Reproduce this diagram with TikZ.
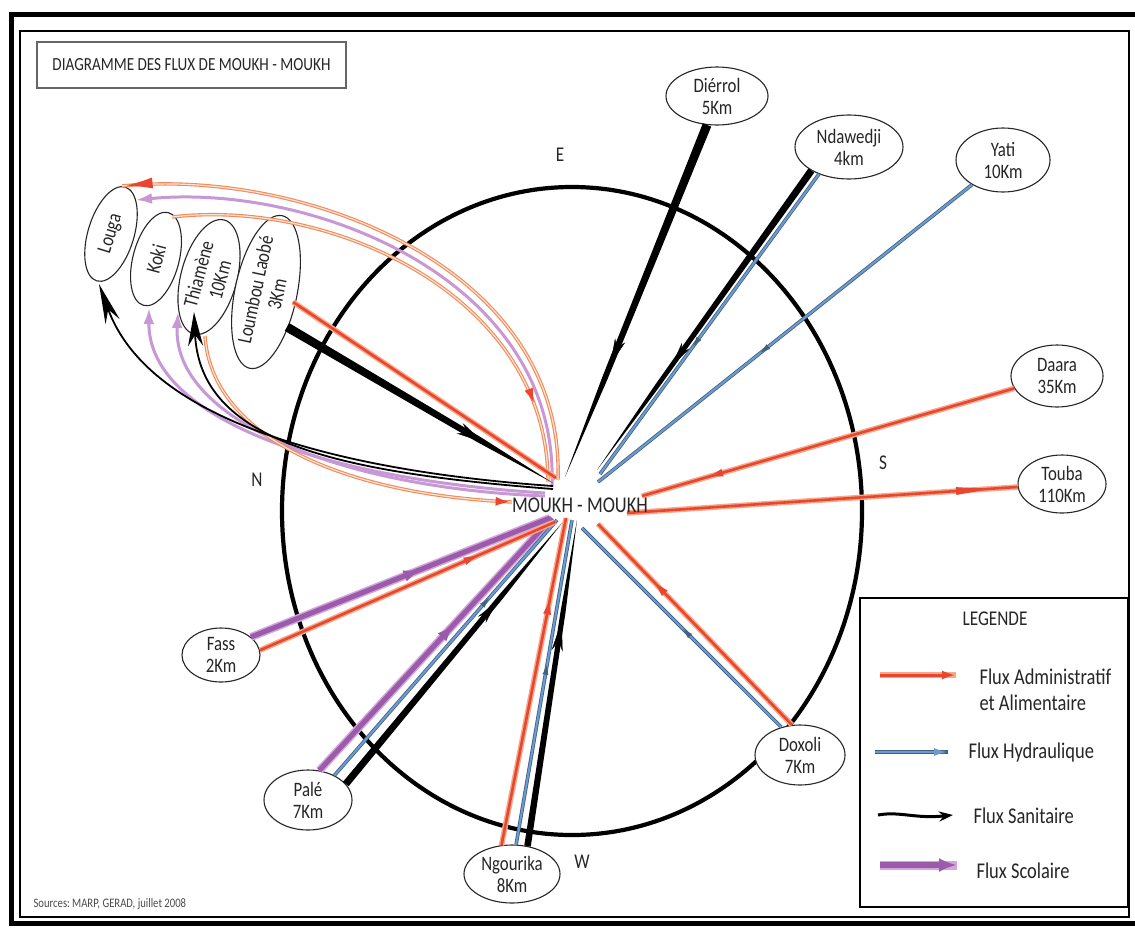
\documentclass[tikz,border=0pt]{standalone}
\usepackage{fontspec}
\setmainfont{Carlito}[FakeStretch=0.82]
\usetikzlibrary{shapes.geometric,arrows.meta,decorations.markings,calc}
\definecolor{fred}{HTML}{E8462E}
\definecolor{fglow}{HTML}{F7A98A}
\definecolor{fblue}{HTML}{6C9BD2}
\definecolor{fbluedk}{HTML}{41617F}
\definecolor{fpurple}{HTML}{9C5AAA}
\definecolor{fpurplelt}{HTML}{D2A6DC}
\definecolor{forange}{HTML}{F2895A}
\definecolor{fcurvein}{HTML}{FDE3D2}
\definecolor{fpcurve}{HTML}{C898D6}
\newcommand{\blacktaper}[4]{%
  \coordinate (tpM) at ($(#1)!0.72!(#2)$);
  \fill[black] ($(#1)!#3!90:(#2)$) -- ($(tpM)!#4!90:(#2)$) -- (#2) -- ($(tpM)!#4!-90:(#2)$) -- ($(#1)!#3!-90:(#2)$) -- cycle;}
\tikzset{
  place/.style={ellipse, draw=black!85, line width=1.1pt, fill=white, inner sep=0pt, align=center, text=black!85, font=\fontsize{20.5}{22}\selectfont},
  redline/.style={draw=fred, line width=2.6pt, preaction={draw=fglow, line width=5.5pt}},
  blueline/.style={draw=fblue, line width=2pt, preaction={draw=fbluedk, line width=3.6pt}},
  purpleline/.style={draw=fpurple, line width=5pt, preaction={draw=fpurplelt, line width=8pt}},
  ocurve/.style={draw=forange, line width=3.4pt, postaction={draw=fcurvein, line width=1.2pt}},
  pcurve/.style={draw=fpcurve, line width=3pt},
  kcurve/.style={draw=black, line width=1.8pt},
  markfw/.style 2 args={postaction={decorate,decoration={markings,mark=at position #1 with {\arrow{#2}}}}},
  markbw/.style 2 args={postaction={decorate,decoration={markings,mark=at position #1 with {\arrowreversed{#2}}}}},
  compass/.style={text=black!85, font=\fontsize{21}{23}\selectfont},
  legtext/.style={anchor=base west, text=black!85, font=\fontsize{22.5}{25}\selectfont},
}
\begin{document}
\begin{tikzpicture}[x=1pt,y=-1pt]
\useasboundingbox (0,0) rectangle (1135,927);
\clip (0,0) rectangle (1135,927);
\fill[white] (0,0) rectangle (1135,927);
% frame
\draw[line width=5.5pt] (11.5,14.5) rectangle (1145,923.5);
\draw[line width=2pt] (19.5,31) rectangle (1129,917);
% title
\node[draw=black!60, line width=1.5pt, minimum width=309pt, minimum height=46pt, inner sep=0pt, text=black!85, font=\fontsize{18.5}{21}\selectfont] (title) at (191.5,65) {DIAGRAMME DES FLUX DE MOUKH - MOUKH};
% ring
\node[ellipse, draw, line width=4.2pt, minimum width=580pt, minimum height=648pt, inner sep=0pt] (ring) at (572,511) {};
% compass
\node[compass] (lblE) at (560,155) {E};
\node[compass] (lblN) at (257,480) {N};
\node[compass] (lblS) at (883,463) {S};
\node[compass] (lblW) at (582,862) {W};
% places
\node[place, minimum width=102pt, minimum height=58pt] (Dierrol) at (717,96) {Diérrol\\5Km};
\node[place, minimum width=108pt, minimum height=64pt] (Ndawedji) at (849,147) {Ndawedji\\4km};
\node[place, minimum width=94pt, minimum height=64pt] (Yati) at (1003,160) {Yati\\10Km};
\node[place, minimum width=92pt, minimum height=62pt] (Daara) at (1057,376) {Daara\\35Km};
\node[place, minimum width=88pt, minimum height=58pt] (Touba) at (1062,484) {Touba\\110Km};
\node[place, minimum width=90pt, minimum height=60pt] (Doxoli) at (800,755) {Doxoli\\7Km};
\node[place, minimum width=96pt, minimum height=58pt] (Ngourika) at (512,874) {Ngourika\\8Km};
\node[place, minimum width=88pt, minimum height=60pt] (Pale) at (308,800) {Palé\\7Km};
\node[place, minimum width=78pt, minimum height=54pt] (Fass) at (221,655) {Fass\\2Km};
\node[place, rotate=73, minimum width=98pt, minimum height=46pt] (Louga) at (111,234) {Louga};
\node[place, rotate=75, minimum width=96pt, minimum height=46pt] (Koki) at (156,259) {Koki};
\node[place, rotate=75, minimum width=118pt, minimum height=56pt] (Thiamene) at (209,277) {Thiamène\\10Km};
\node[place, rotate=78, minimum width=156pt, minimum height=62pt] (Loumbou) at (266,292) {Loumbou Laobé\\3Km};
% hub-side ends
\coordinate (cDi) at (565,477);
\coordinate (cNdk) at (597,470);
\coordinate (cNdb) at (600,474);
\coordinate (cYa) at (598,482);
\coordinate (cDa) at (642,496);
\coordinate (cTo) at (627,513);
\coordinate (cDxr) at (598,524);
\coordinate (cDxb) at (582,528);
\coordinate (cNgr) at (566,518);
\coordinate (cNgb) at (572,520);
\coordinate (cNgk) at (577,520);
\coordinate (cPap) at (552,518);
\coordinate (cPab) at (557,520);
\coordinate (cPak) at (562,523);
\coordinate (cFap) at (550,518);
\coordinate (cFar) at (555,522);
\coordinate (cLbk) at (553,483);
\coordinate (cLbr) at (556,478);
\coordinate (cT1) at (558,480);
\coordinate (cT2) at (552,487);
\coordinate (cT3) at (548,482);
\coordinate (cB1) at (553,486);
\coordinate (cB2) at (553,489);
\coordinate (cB3) at (545,493);
\coordinate (cB4) at (545,496);
\coordinate (cB5) at (512,502);
% place-side ends
\coordinate (dA) at (Dierrol.251);
\coordinate (ndk) at (Ndawedji.212);
\coordinate (ngk) at (Ngourika.61);
\coordinate (pak) at (Pale.23);
\coordinate (lbk) at (287,327);
\coordinate (lbr) at (293,302);
\coordinate (lgT) at (122,186);
\coordinate (lgP) at (136,200);
\coordinate (kT) at (172,217);
\coordinate (lgB) at (99,284);
\coordinate (tB) at (194,312);
\coordinate (kB) at (149,308);
\coordinate (tP) at (178,312);
\coordinate (tO) at (205,336);
% curves to Louga / Koki / Thiamene
\draw[ocurve, markfw={0.999}{Latex[length=30pt,width=11pt,color=fred]}] (cT1) .. controls (565,265) and (300,168) .. (lgT);
\draw[pcurve, -{Latex[length=16pt,width=11pt]}] (cT2) .. controls (560,278) and (310,183) .. (lgP);
\draw[ocurve, markfw={0.85}{Latex[length=18pt,width=9pt,color=fred]}] (kT) .. controls (330,198) and (548,295) .. (cT3);
\draw[pcurve, -{Latex[length=16pt,width=11pt]}] (cB3) .. controls (330,480) and (148,420) .. (kB);
\draw[pcurve, -{Latex[length=16pt,width=11pt]}] (cB4) .. controls (340,488) and (172,420) .. (tP);
\draw[ocurve, markfw={0.999}{Latex[length=16pt,width=9pt,color=fred]}] (tO) .. controls (212,440) and (350,495) .. (cB5);
\draw[kcurve, -{Stealth[length=40pt,width=15pt]}] (cB1) .. controls (350,472) and (150,425) .. (lgB);
\draw[kcurve, -{Stealth[length=34pt,width=15pt]}] (cB2) .. controls (330,472) and (200,440) .. (tB);
% Loumbou Laobe
\draw[redline] (lbr) -- (cLbr);
\blacktaper{lbk}{cLbk}{4.5pt}{3pt}
\path[markfw={0.74}{Stealth[length=28pt,width=12pt,color=black]}] (lbk) -- (cLbk);
% Dierrol
\blacktaper{dA}{cDi}{4.5pt}{2.8pt}
\path[markfw={0.68}{Stealth[length=26pt,width=11pt,color=black]}] (dA) -- (cDi);
% Ndawedji
\blacktaper{ndk}{cNdk}{3.6pt}{2.3pt}
\path[markfw={0.65}{Stealth[length=24pt,width=10pt,color=black]}] (ndk) -- (cNdk);
\draw[blueline, markfw={0.58}{Latex[length=12pt,width=6pt,color=fbluedk]}] (Ndawedji.222) -- (cNdb);
% Yati
\draw[blueline, markfw={0.57}{Latex[length=12pt,width=6pt,color=fbluedk]}] (Yati) -- (cYa);
% Daara, Touba
\draw[redline, markfw={0.83}{Latex[length=18pt,width=8pt,color=fred]}] (Daara) -- (cDa);
\draw[redline, markbw={0.03}{Latex[length=50pt,width=8pt,color=fred]}] (Touba) -- (cTo);
% Doxoli
\draw[blueline, markfw={0.5}{Latex[length=12pt,width=6pt,color=fbluedk]}] (Doxoli.124) -- (cDxb);
\draw[redline, markfw={0.72}{Latex[length=18pt,width=8pt,color=fred]}] (Doxoli.105) -- (cDxr);
% Ngourika
\draw[redline, markfw={0.76}{Latex[length=18pt,width=8pt,color=fred]}] (Ngourika.110) -- (cNgr);
\draw[blueline, markfw={0.56}{Latex[length=12pt,width=6pt,color=fbluedk]}] (Ngourika.82) -- (cNgb);
\blacktaper{ngk}{cNgk}{3.3pt}{2.5pt}
\path[markfw={0.69}{Stealth[length=30pt,width=11pt,color=black]}] (ngk) -- (cNgk);
% Pale
\draw[purpleline, markfw={0.58}{Latex[length=18pt,width=12pt,color=fpurple]}] (Pale.69) -- (cPap);
\draw[blueline, markfw={0.7}{Latex[length=12pt,width=6pt,color=fbluedk]}] (Pale.43) -- (cPab);
\blacktaper{pak}{cPak}{3.6pt}{2.6pt}
\path[markfw={0.7}{Stealth[length=24pt,width=10pt,color=black]}] (pak) -- (cPak);
% Fass
\draw[purpleline, markfw={0.57}{Latex[length=18pt,width=12pt,color=fpurple]}] (Fass.31) -- (cFap);
\draw[redline, markfw={0.75}{Latex[length=18pt,width=8pt,color=fred]}] (Fass.7) -- (cFar);
% hub label
\node[text=black!85, font=\fontsize{22.5}{25}\selectfont] (moukh) at (580,505) {MOUKH - MOUKH};
% legend
\node[draw, line width=2pt, minimum width=268pt, minimum height=309pt, inner sep=0pt] (legend) at (994,752.5) {};
\node[anchor=base, text=black!85, font=\fontsize{21}{23}\selectfont] (legtitle) at (995,625) {LEGENDE};
\coordinate (la1) at (880,675); \coordinate (la2) at (956,675);
\draw[fglow, line width=6pt] (la1) -- (la2);
\draw[fred, line width=3pt, -{Latex[length=14pt,width=9pt]}] (la1) -- (la2);
\node[legtext] (lt1) at (976,684) {Flux Administratif};
\node[legtext] (lt1b) at (976,710) {et Alimentaire};
\coordinate (lb1) at (875,752); \coordinate (lb2) at (948,752);
\draw[fbluedk, line width=4pt] (lb1) -- (lb2);
\draw[fblue, line width=2.2pt, -{Latex[length=14pt,width=8pt]}] (lb1) -- (lb2);
\node[legtext] (lt2) at (965,758) {Flux Hydraulique};
\coordinate (lk1) at (878,815); \coordinate (lk2) at (953,815);
\draw[line width=3pt, -{Stealth[length=14pt,width=10pt]}] (lk1) .. controls (900,811) and (915,819) .. (lk2);
\node[legtext] (lt3) at (970,823) {Flux Sanitaire};
\coordinate (lp1) at (880,865); \coordinate (lp2) at (957,865);
\draw[fpurplelt, line width=9pt] (lp1) -- (lp2);
\draw[fpurple, line width=6pt, -{Latex[length=18pt,width=14pt]}] (lp1) -- (lp2);
\node[legtext] (lt4) at (973,878) {Flux Scolaire};
% source
\node[anchor=base west, text=black!70, font=\fontsize{13}{15}\selectfont] (src) at (30,907) {Sources:\,MARP, GERAD, juillet 2008};
\end{tikzpicture}
\end{document}
